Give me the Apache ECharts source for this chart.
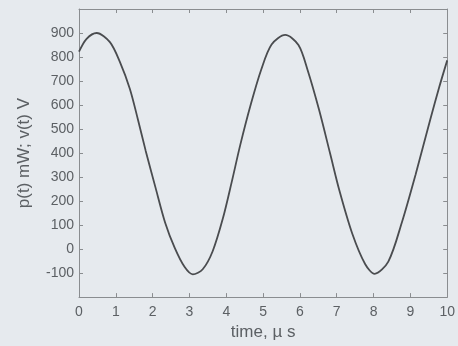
<!DOCTYPE html>
<html>
<head>
<meta charset="utf-8">
<script src="https://cdn.jsdelivr.net/npm/echarts@6/dist/echarts.min.js"></script>
<style>
  html, body { margin: 0; padding: 0; background: #e6eaee; }
  #chart { width: 458px; height: 346px; }
</style>
</head>
<body>
<div id="chart"></div>
<script>
// time in microseconds
const times = [0, 0.2, 0.48, 0.84, 1.11, 1.38, 1.6, 1.81, 2.08, 2.34, 2.6, 2.87, 3.09, 3.36, 3.63, 3.91,
  4.15, 4.38, 4.67, 4.95, 5.23, 5.6, 5.96, 6.21, 6.52, 6.82, 7.07, 7.42, 7.77, 8.03, 8.4, 8.77,
  9.14, 9.54, 9.78, 10];
// p(t) values
const power = [822, 875, 900, 862, 780, 668, 540, 410, 255, 110, 5, -75, -105, -84, -9, 129,
  281, 434, 605, 748, 852, 892, 850, 745, 580, 398, 245, 65, -62, -103, -52, 112,
  310, 540, 673, 786];
const xTicks = [0, 1, 2, 3, 4, 5, 6, 7, 8, 9, 10];
const yTicks = [-100, 0, 100, 200, 300, 400, 500, 600, 700, 800, 900];

const chart = echarts.init(document.getElementById('chart'));
const txt = '#5c6064';
const boxLine = { show: true, onZero: false, lineStyle: { color: '#8a8d90', width: 1 } };
const inTick = { show: true, inside: true, length: 4, lineStyle: { color: '#8a8d90' } };

chart.setOption({
  backgroundColor: '#e6eaee',
  animation: false,
  grid: { left: 79, right: 6, top: 9, bottom: 43 },
  xAxis: [{
    type: 'value', min: 0, max: 10, interval: 1,
    axisLine: boxLine, axisTick: inTick, splitLine: { show: false },
    axisLabel: {
      color: txt, fontSize: 14, fontFamily: 'Liberation Sans', margin: 8,
      formatter: v => xTicks.includes(v) ? String(v) : ''
    },
    name: 'time, \u00b5 s', nameLocation: 'middle', nameGap: 24,
    nameTextStyle: { color: txt, fontSize: 17, fontFamily: 'Liberation Sans' }
  }, {
    type: 'value', position: 'top', min: 0, max: 10, interval: 1,
    axisLine: boxLine, axisTick: inTick, axisLabel: { show: false }, splitLine: { show: false }
  }],
  yAxis: [{
    type: 'value', min: -200, max: 1000, interval: 100,
    axisLine: boxLine, axisTick: inTick, splitLine: { show: false },
    axisLabel: {
      color: txt, fontSize: 14, fontFamily: 'Liberation Sans', margin: 5,
      showMinLabel: false, showMaxLabel: false,
      formatter: v => yTicks.includes(v) ? String(v) : ''
    },
    name: 'p(t) mW; v(t) V', nameLocation: 'middle', nameGap: 46,
    nameTextStyle: { color: txt, fontSize: 17, fontFamily: 'Liberation Sans' }
  }, {
    type: 'value', position: 'right', min: -200, max: 1000, interval: 100,
    axisLine: boxLine, axisTick: inTick, axisLabel: { show: false }, splitLine: { show: false }
  }],
  series: [{
    type: 'line',
    data: times.map((t, i) => [t, power[i]]),
    smooth: 0.3,
    showSymbol: false,
    lineStyle: { color: '#4a4c4f', width: 1.8 }
  }]
});
</script>
</body>
</html>
